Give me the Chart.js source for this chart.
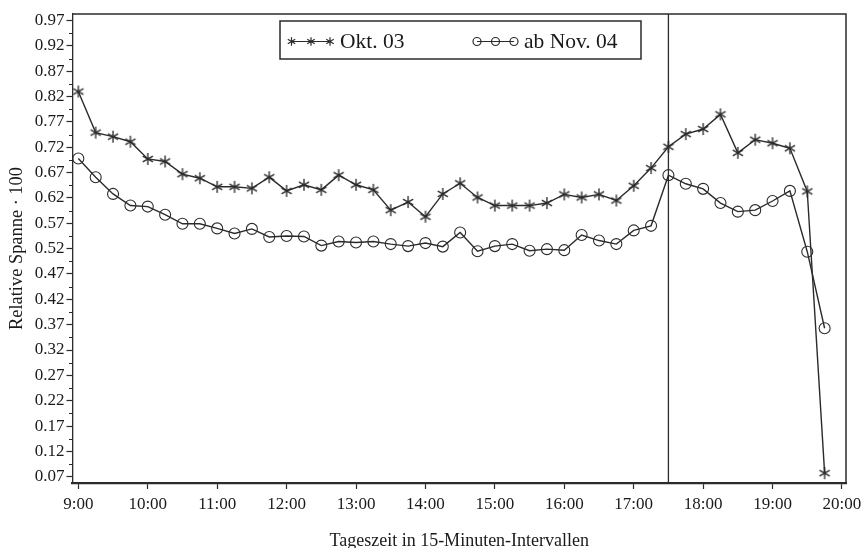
<!DOCTYPE html>
<html><head><meta charset="utf-8">
<script src="https://cdn.jsdelivr.net/npm/chart.js@4/dist/chart.umd.min.js"></script>
<style>html,body{margin:0;padding:0;background:#fff}#wrap{width:862px;height:548px;position:relative}</style>
</head><body><div id="wrap"><canvas id="c" width="862" height="548"></canvas></div>
<script>
// ---- data ----
const timeLabels = ["9:00","9:15","9:30","9:45","10:00","10:15","10:30","10:45","11:00","11:15","11:30","11:45",
  "12:00","12:15","12:30","12:45","13:00","13:15","13:30","13:45","14:00","14:15","14:30","14:45",
  "15:00","15:15","15:30","15:45","16:00","16:15","16:30","16:45","17:00","17:15","17:30","17:45",
  "18:00","18:15","18:30","18:45","19:00","19:15","19:30","19:45"];
const okt03 = [0.830,0.749,0.741,0.731,0.697,0.692,0.667,0.659,0.642,0.642,0.639,0.661,
  0.634,0.646,0.636,0.665,0.646,0.636,0.596,0.612,0.583,0.628,0.649,0.621,
  0.605,0.605,0.605,0.610,0.627,0.621,0.627,0.615,0.644,0.679,0.721,0.746,
  0.756,0.785,0.709,0.735,0.728,0.718,0.633,0.077];
const nov04 = [0.698,0.661,0.628,0.605,0.603,0.587,0.569,0.569,0.560,0.550,0.559,0.543,
  0.545,0.544,0.526,0.534,0.532,0.534,0.529,0.525,0.531,0.524,0.552,0.515,
  0.525,0.529,0.516,0.519,0.517,0.547,0.536,0.529,0.556,0.565,0.665,0.648,
  0.638,0.610,0.593,0.596,0.614,0.634,0.514,0.363];
const seriesNames = ["Okt. 03", "ab Nov. 04"];
const xTickLabels = ["9:00","10:00","11:00","12:00","13:00","14:00","15:00","16:00","17:00","18:00","19:00","20:00"];
const yTickLabels = ["0.07","0.12","0.17","0.22","0.27","0.32","0.37","0.42","0.47","0.52","0.57","0.62","0.67","0.72","0.77","0.82","0.87","0.92","0.97"];
const markerTime = "17:30";
const xTitle = "Tageszeit in 15-Minuten-Intervallen";
const yTitle = "Relative Spanne \u00B7 100";

// ---- helpers ----
const toHours = s => { const [h, m] = s.split(":").map(Number); return h + m / 60; };
const xs = timeLabels.map(toHours);
const xTickVals = xTickLabels.map(toHours);
const yTickVals = yTickLabels.map(Number);
const INK = '#2b2b2b';
const FONT = 'Liberation Serif';

function drawMarker(ctx, style, x, y, r) {
  ctx.beginPath();
  if (style === 'circle') {
    ctx.arc(x, y, r, 0, Math.PI * 2);
  } else {
    for (let k = 0; k < 3; k++) {
      const a = k * Math.PI / 3;
      ctx.moveTo(x - Math.sin(a) * r, y - Math.cos(a) * r);
      ctx.lineTo(x + Math.sin(a) * r, y + Math.cos(a) * r);
    }
  }
  ctx.stroke();
}

// asterisk point image (6 arms)
const starImg = document.createElement('canvas');
starImg.width = 14; starImg.height = 14;
(function () {
  const c = starImg.getContext('2d');
  c.strokeStyle = INK; c.lineWidth = 1.35;
  drawMarker(c, 'star', 7, 7, 5.9);
})();

const decor = {
  id: 'decor',
  afterDraw(chart) {
    const {ctx, chartArea: a, scales} = chart;
    ctx.save();
    ctx.strokeStyle = INK;
    // top & right frame
    ctx.lineWidth = 1.5;
    ctx.beginPath();
    ctx.moveTo(a.left, a.top); ctx.lineTo(a.right, a.top); ctx.lineTo(a.right, a.bottom);
    ctx.stroke();
    // minor y ticks
    ctx.lineWidth = 1;
    ctx.beginPath();
    for (let i = 0; i < yTickVals.length - 1; i++) {
      const yy = Math.round(scales.y.getPixelForValue((yTickVals[i] + yTickVals[i + 1]) / 2)) + 0.5;
      ctx.moveTo(a.left - 3.5, yy); ctx.lineTo(a.left, yy);
    }
    ctx.stroke();
    // vertical marker line
    const vx = scales.x.getPixelForValue(toHours(markerTime));
    ctx.lineWidth = 1.3;
    ctx.beginPath(); ctx.moveTo(vx, a.top); ctx.lineTo(vx, a.bottom); ctx.stroke();
    // legend
    const bx = 280, by = 21, bw = 361, bh = 38;
    ctx.fillStyle = '#fff';
    ctx.fillRect(bx, by, bw, bh);
    ctx.lineWidth = 1.5;
    ctx.strokeRect(bx, by, bw, bh);
    const ly = 41.5;
    const items = [
      {style: 'star', xs: [291.5, 311, 330], tx: 340, r: 4.3},
      {style: 'circle', xs: [477, 495.5, 514], tx: 524, r: 4}
    ];
    ctx.font = '21.5px "' + FONT + '"';
    ctx.textBaseline = 'middle';
    ctx.textAlign = 'left';
    items.forEach((it, i) => {
      ctx.lineWidth = 1.2;
      ctx.beginPath(); ctx.moveTo(it.xs[0], ly); ctx.lineTo(it.xs[2], ly); ctx.stroke();
      it.xs.forEach(px => drawMarker(ctx, it.style, px, ly, it.r));
      ctx.fillStyle = '#1a1a1a';
      ctx.fillText(chart.data.datasets[i].label, it.tx, ly + 1);
    });
    ctx.restore();
  }
};

const ds = (label, vals, style) => ({
  label,
  data: xs.map((x, i) => ({x, y: vals[i]})),
  borderColor: INK, borderWidth: 1.4,
  pointStyle: style === 'star' ? starImg : 'circle', pointRadius: 5.5,
  pointBorderColor: INK, pointBorderWidth: 1.1,
  pointBackgroundColor: 'rgba(0,0,0,0)', tension: 0, fill: false
});

new Chart(document.getElementById('c'), {
  type: 'line',
  data: { datasets: [ds(seriesNames[0], okt03, 'star'), ds(seriesNames[1], nov04, 'circle')] },
  options: {
    responsive: false, animation: false, devicePixelRatio: 1,
    layout: { padding: { top: 14, right: 16, left: 0, bottom: 0 } },
    plugins: { legend: { display: false }, tooltip: { enabled: false } },
    scales: {
      x: {
        type: 'linear', min: 8.916, max: 20.058,
        afterBuildTicks: s => { s.ticks = xTickVals.map(v => ({value: v})); },
        afterFit: s => { s.height = 65; s.paddingLeft = 0; s.paddingRight = 0; },
        ticks: { callback: (v) => { const i = xTickVals.indexOf(v); return i >= 0 ? xTickLabels[i] : ''; },
          font: { family: FONT, size: 17 }, color: '#1a1a1a', padding: 5, maxRotation: 0, autoSkip: false },
        grid: { drawOnChartArea: false, drawTicks: true, tickLength: 6, color: INK, tickWidth: 1.2 },
        border: { color: INK, width: 2.2 },
        title: { display: true, text: xTitle, font: { family: FONT, size: 18 }, color: '#1a1a1a', padding: { top: 0, bottom: -4 } }
      },
      y: {
        min: 0.0576, max: 0.983,
        afterBuildTicks: s => { s.ticks = yTickVals.map(v => ({value: v})); },
        afterFit: s => { s.width = 72.5; },
        ticks: { callback: (v) => { const i = yTickVals.findIndex(t => Math.abs(t - v) < 1e-9); return i >= 0 ? yTickLabels[i] : ''; },
          font: { family: FONT, size: 17 }, color: '#1a1a1a', padding: 2, autoSkip: false },
        grid: { drawOnChartArea: false, drawTicks: true, tickLength: 6, color: INK, tickWidth: 1.2 },
        border: { color: INK, width: 1.3 },
        title: { display: true, text: yTitle, font: { family: FONT, size: 18.4 }, color: '#1a1a1a', padding: { top: 6, bottom: 0 } }
      }
    }
  },
  plugins: [decor]
});
</script></body></html>
